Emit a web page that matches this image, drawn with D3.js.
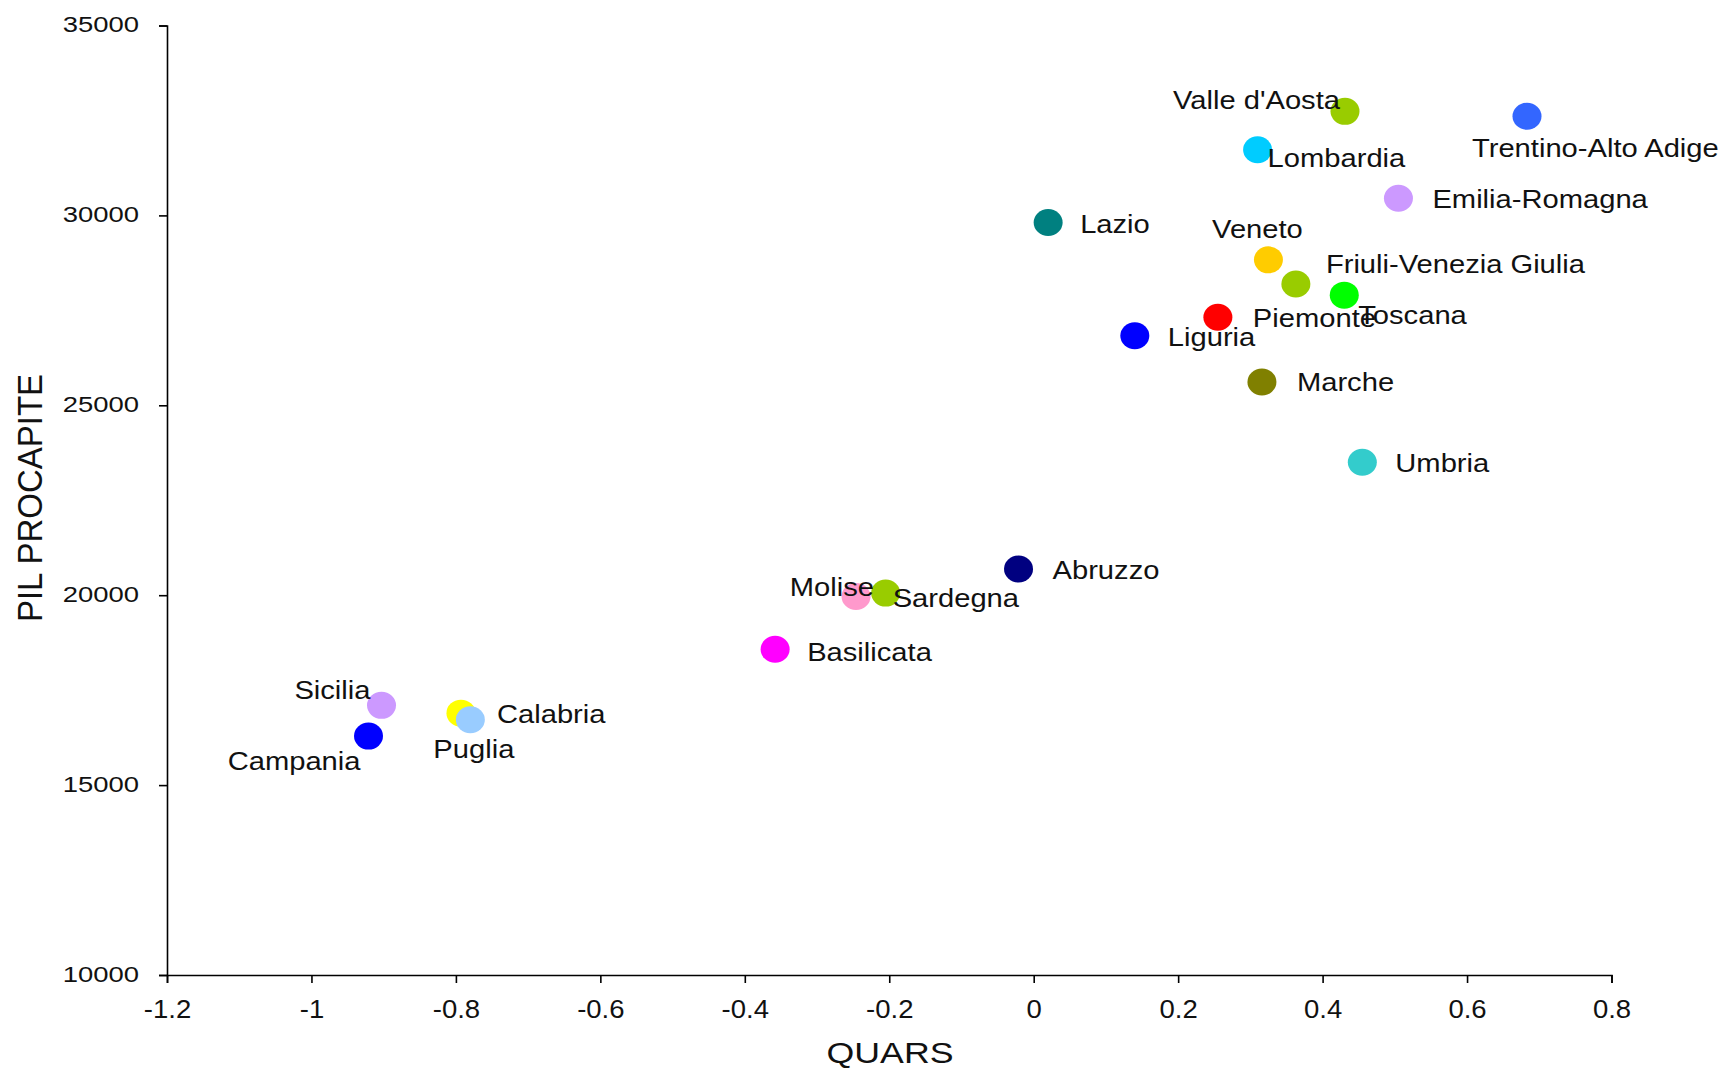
<!DOCTYPE html>
<html><head><meta charset="utf-8">
<script src="https://cdn.jsdelivr.net/npm/d3@7"></script>
<style>body{margin:0;background:#fff}svg{display:block;background:#fff}</style>
</head><body>
<svg id="chart" width="1725" height="1068"></svg>
<script>
// ---- data ----
const regions = ["Valle d'Aosta","Trentino-Alto Adige","Lombardia","Emilia-Romagna","Lazio","Veneto",
  "Friuli-Venezia Giulia","Toscana","Piemonte","Liguria","Marche","Umbria","Abruzzo","Molise",
  "Sardegna","Basilicata","Sicilia","Campania","Calabria","Puglia"];
const quars = [0.431,0.683,0.310,0.505,0.020,0.325,0.363,0.430,0.255,0.140,0.316,0.455,-0.021,-0.246,
  -0.205,-0.358,-0.903,-0.921,-0.793,-0.780];
const pil = [32740,32610,31730,30450,29815,28830,28195,27900,27320,26830,25615,23500,20690,19965,
  20055,18575,17100,16290,16895,16720];
const colors = ["#99CC00","#3366FF","#00CCFF","#CC99FF","#008080","#FFCC00","#99CC00","#00FF00",
  "#FF0000","#0000FF","#808000","#33CCCC","#000080","#FF99CC","#99CC00","#FF00FF","#CC99FF",
  "#0000FF","#FFFF00","#99CCFF"];
const xTicks = [-1.2,-1,-0.8,-0.6,-0.4,-0.2,0,0.2,0.4,0.6,0.8];
const yTicks = [10000,15000,20000,25000,30000,35000];
const xTitle = "QUARS";
const yTitle = "PIL PROCAPITE";

// ---- layout (label placement relative to each dot) ----
const labelPlace = {
  "Valle d'Aosta":[-5,-12,"end"], "Trentino-Alto Adige":[-55,31,"start"], "Lombardia":[10,8,"start"],
  "Emilia-Romagna":[34,0,"start"], "Lazio":[32,1,"start"], "Veneto":[-11,-31,"middle"],
  "Friuli-Venezia Giulia":[30,-20,"start"], "Toscana":[14,20,"start"], "Piemonte":[35,1,"start"],
  "Liguria":[33,1,"start"], "Marche":[35,0,"start"], "Umbria":[33,0,"start"], "Abruzzo":[34,1,"start"],
  "Molise":[18,-10,"end"], "Sardegna":[7,5,"start"], "Basilicata":[32,2,"start"], "Sicilia":[-11,-16,"end"],
  "Campania":[-8,25,"end"], "Calabria":[36,1,"start"], "Puglia":[-37,29,"start"]
};
const FONT = "'Liberation Sans', Arial, Helvetica, sans-serif";
const svg = d3.select("#chart");
const x = d3.scaleLinear().domain([-1.2,0.8]).range([167,1611.5]);
const y = d3.scaleLinear().domain([10000,35000]).range([975,25.5]);
const fmt = d => String(+d.toFixed(1));

// x axis
const gx = svg.append("g").attr("transform",`translate(0,${y(10000)})`)
  .call(d3.axisBottom(x).tickValues(xTicks).tickSize(8).tickFormat(fmt));
gx.select(".domain").attr("stroke","#000").attr("stroke-width",1.6);
gx.selectAll(".tick line").attr("stroke","#000").attr("stroke-width",1.6);
gx.selectAll(".tick text").attr("y",43).attr("dy",null)
  .attr("font-family",FONT).attr("font-size",25).attr("fill","#111")
  .attr("transform","scale(1.1,1)");

// y axis
const sy = 1.22;
const gy = svg.append("g").attr("transform",`translate(${x(-1.2)},0)`)
  .call(d3.axisLeft(y).tickValues(yTicks).tickSize(8).tickFormat(d3.format("d")));
gy.select(".domain").attr("stroke","#000").attr("stroke-width",1.6);
gy.selectAll(".tick line").attr("stroke","#000").attr("stroke-width",1.6);
gy.selectAll(".tick text").attr("x",-28/sy).attr("dy","0.28em")
  .attr("font-family",FONT).attr("font-size",22.5).attr("fill","#111")
  .attr("transform",`scale(${sy},1)`);
svg.selectAll(".tick text").attr("font-family",FONT);
gx.attr("font-family",FONT); gy.attr("font-family",FONT);

// points
const pts = regions.map((r,i)=>({r, q:quars[i], p:pil[i], c:colors[i]}));
svg.append("g").selectAll("ellipse").data(pts).join("ellipse")
  .attr("cx",d=>x(d.q)).attr("cy",d=>y(d.p)).attr("rx",14.5).attr("ry",13.5)
  .attr("fill",d=>d.c);

// labels
svg.append("g").selectAll("text").data(pts).join("text")
  .attr("transform",d=>{const o=labelPlace[d.r];return `translate(${x(d.q)+o[0]},${y(d.p)+o[1]}) scale(1.1,1)`;})
  .attr("text-anchor",d=>labelPlace[d.r][2])
  .attr("dy","0.35em")
  .attr("font-family",FONT).attr("font-size",26.5).attr("fill","#111")
  .text(d=>d.r);

// axis titles
svg.append("text").attr("transform","translate(890,1063) scale(1.19,1)")
  .attr("text-anchor","middle").attr("font-family",FONT).attr("font-size",30).attr("fill","#111")
  .text(xTitle);
svg.append("text").attr("transform","translate(41.5,498) scale(1.06,1) rotate(-90)")
  .attr("text-anchor","middle").attr("font-family",FONT).attr("font-size",33).attr("fill","#111")
  .text(yTitle);
</script>
</body></html>
